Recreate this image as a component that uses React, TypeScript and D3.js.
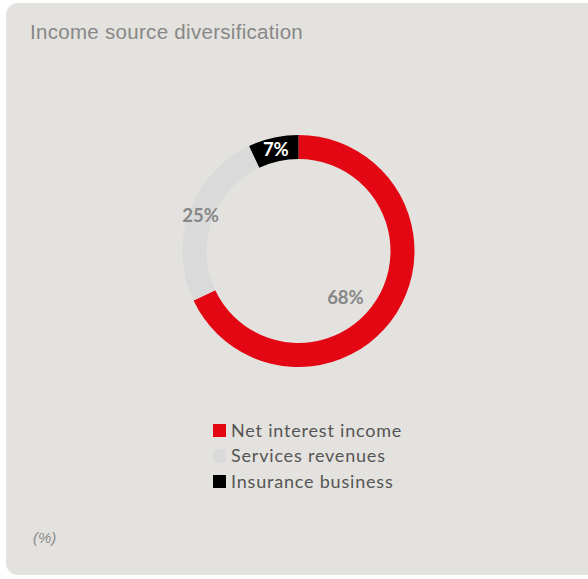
import React from "react";
import * as d3 from "d3";

const categories = ["Net interest income", "Services revenues", "Insurance business"];
const values = [68, 25, 7];
const labels = ["68%", "25%", "7%"];
const colors = ["#e30613", "#dadada", "#000000"];
const labelColors = ["#878787", "#878787", "#ffffff"];

export default function App() {
  const W = 588, H = 579;
  const cx = 298.5, cy = 251;
  const R = 116, r = 92;
  const pie = d3.pie<number>().value((d) => d).sort(null);
  const arcs = pie(values);
  const arc = d3.arc<d3.PieArcDatum<number>>().innerRadius(r).outerRadius(R);
  // label positions: mid ring, except the large slice which sits inside the ring
  const labelPos = arcs.map((a, i) => {
    if (i === 0) {
      const ang = a.startAngle + (a.endAngle - a.startAngle) * 0.55;
      const rr = 66;
      return [Math.sin(ang) * rr, -Math.cos(ang) * rr];
    }
    return arc.centroid(a);
  });
  return (
    <svg width={W} height={H} style={{ position: "absolute", left: 0, top: 0 }}>
      <rect x={0} y={0} width={W} height={H} fill="#ffffff" />
      <rect x={6} y={3} width={W + 20} height={572} rx={12} ry={12} fill="#e4e2de" />
      <text x={30} y={39} fontFamily="Liberation Sans, Arial, sans-serif" fontSize={20.5} letterSpacing={0.3} fill="#878787">
        Income source diversification
      </text>
      <g transform={`translate(${cx},${cy})`}>
        {arcs.map((a, i) => (
          <path key={i} d={arc(a) || ""} fill={colors[i]} />
        ))}
        {arcs.map((a, i) => (
          <text
            key={"l" + i}
            x={labelPos[i][0]}
            y={labelPos[i][1]}
            dy="0.36em"
            textAnchor="middle"
            fontFamily="Lato, 'Open Sans', sans-serif"
            fontWeight="bold"
            fontSize={18.5}
            fill={labelColors[i]}
          >
            {labels[i]}
          </text>
        ))}
      </g>
      {categories.map((c, i) => (
        <g key={"lg" + i} transform={`translate(213,${424 + i * 25.5})`}>
          <rect x={0} y={0} width={13} height={13} fill={colors[i]} />
          <text x={18} y={12.5} fontFamily="Lato, 'Open Sans', sans-serif" fontSize={18} letterSpacing={0.8} fill="#555555">
            {c}
          </text>
        </g>
      ))}
      <text x={33} y={543} fontFamily="Liberation Sans, Arial, sans-serif" fontStyle="italic" fontSize={15} fill="#8a8a8a">
        (%)
      </text>
    </svg>
  );
}
